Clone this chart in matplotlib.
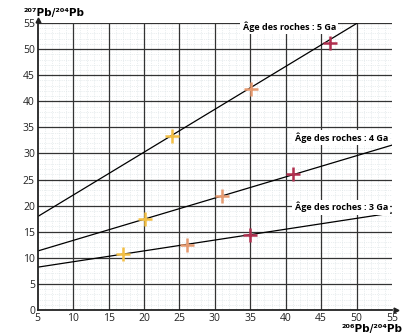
import numpy as np
import matplotlib
matplotlib.use('Agg')
import matplotlib.pyplot as plt

plt.rcParams['font.family'] = ['Open Sans', 'DejaVu Sans']

# droites isochrones (extremites)
ages = ['5', '4', '3']
line_x = [[5, 50.1], [5, 55], [5, 55]]
line_y = [[17.9, 55], [11.3, 31.6], [8.2, 18.6]]

# mesures (croix)
pts_x = [[24.0, 35.1, 46.2], [20.1, 31.0, 41.0], [17.0, 26.0, 35.0]]
pts_y = [[33.3, 42.3, 51.1], [17.4, 21.8, 26.0], [10.7, 12.4, 14.3]]
cross_colors = ['#f2bf45', '#e59a70', '#b0304f']

xticks = np.arange(5, 56, 5)
yticks = np.arange(0, 56, 5)

fig = plt.figure(figsize=(4.14, 3.34), dpi=100)
ax = fig.add_axes([0.091, 0.072, 0.856, 0.859])
ax.set_xlim(5, 55)
ax.set_ylim(0, 55)

# grille fine pointillee
for v in np.arange(5, 55, 1):
    ax.axvline(v, color='#d6dfe2', lw=0.5, ls=':', zorder=0)
for v in np.arange(0, 55, 1):
    ax.axhline(v, color='#d6dfe2', lw=0.5, ls=':', zorder=0)
# grille principale
for v in xticks[1:-1]:
    ax.axvline(v, color='#333333', lw=0.9, zorder=1)
for v in yticks[1:]:
    ax.axhline(v, color='#333333', lw=0.9, zorder=1)

for lx, ly in zip(line_x, line_y):
    ax.plot(lx, ly, color='black', lw=0.9, zorder=2)

for px, py in zip(pts_x, pts_y):
    for x, y, c in zip(px, py, cross_colors):
        ax.plot(x, y, marker='+', ms=10, mew=1.8, color=c, zorder=4)

lab = dict(fontsize=6.5, fontweight='bold', va='center', zorder=3,
           bbox=dict(facecolor='white', edgecolor='none', pad=1.5))
ax.text(33.9, 54.3, 'Âge des roches : ' + ages[0] + ' Ga', ha='left', **lab)
ax.text(54.4, 33.1, 'Âge des roches : ' + ages[1] + ' Ga', ha='right', **lab)
ax.text(54.4, 19.7, 'Âge des roches : ' + ages[2] + ' Ga', ha='right', **lab)

ax.set_xticks(xticks)
ax.set_yticks(yticks)
ax.tick_params(length=0, labelsize=7.5, pad=2, colors='#222222')
for s in ['top', 'right']:
    ax.spines[s].set_visible(False)
for s in ['left', 'bottom']:
    ax.spines[s].set_linewidth(1.3)
    ax.spines[s].set_color('#222222')

# fleches des axes
ax.plot(5, 55.6, marker='^', ms=3.5, color='#222222', clip_on=False, zorder=5)
ax.plot(55.6, 0, marker='>', ms=3.5, color='#222222', clip_on=False, zorder=5)

fig.text(0.056, 0.962, '²⁰⁷Pb/²⁰⁴Pb', fontsize=7.5, fontweight='bold',
         family='DejaVu Sans', ha='left', va='center')
fig.text(0.973, 0.014, '²⁰⁶Pb/²⁰⁴Pb', fontsize=7.5, fontweight='bold',
         family='DejaVu Sans', ha='right', va='center')

fig.savefig('out.png', dpi=100)
